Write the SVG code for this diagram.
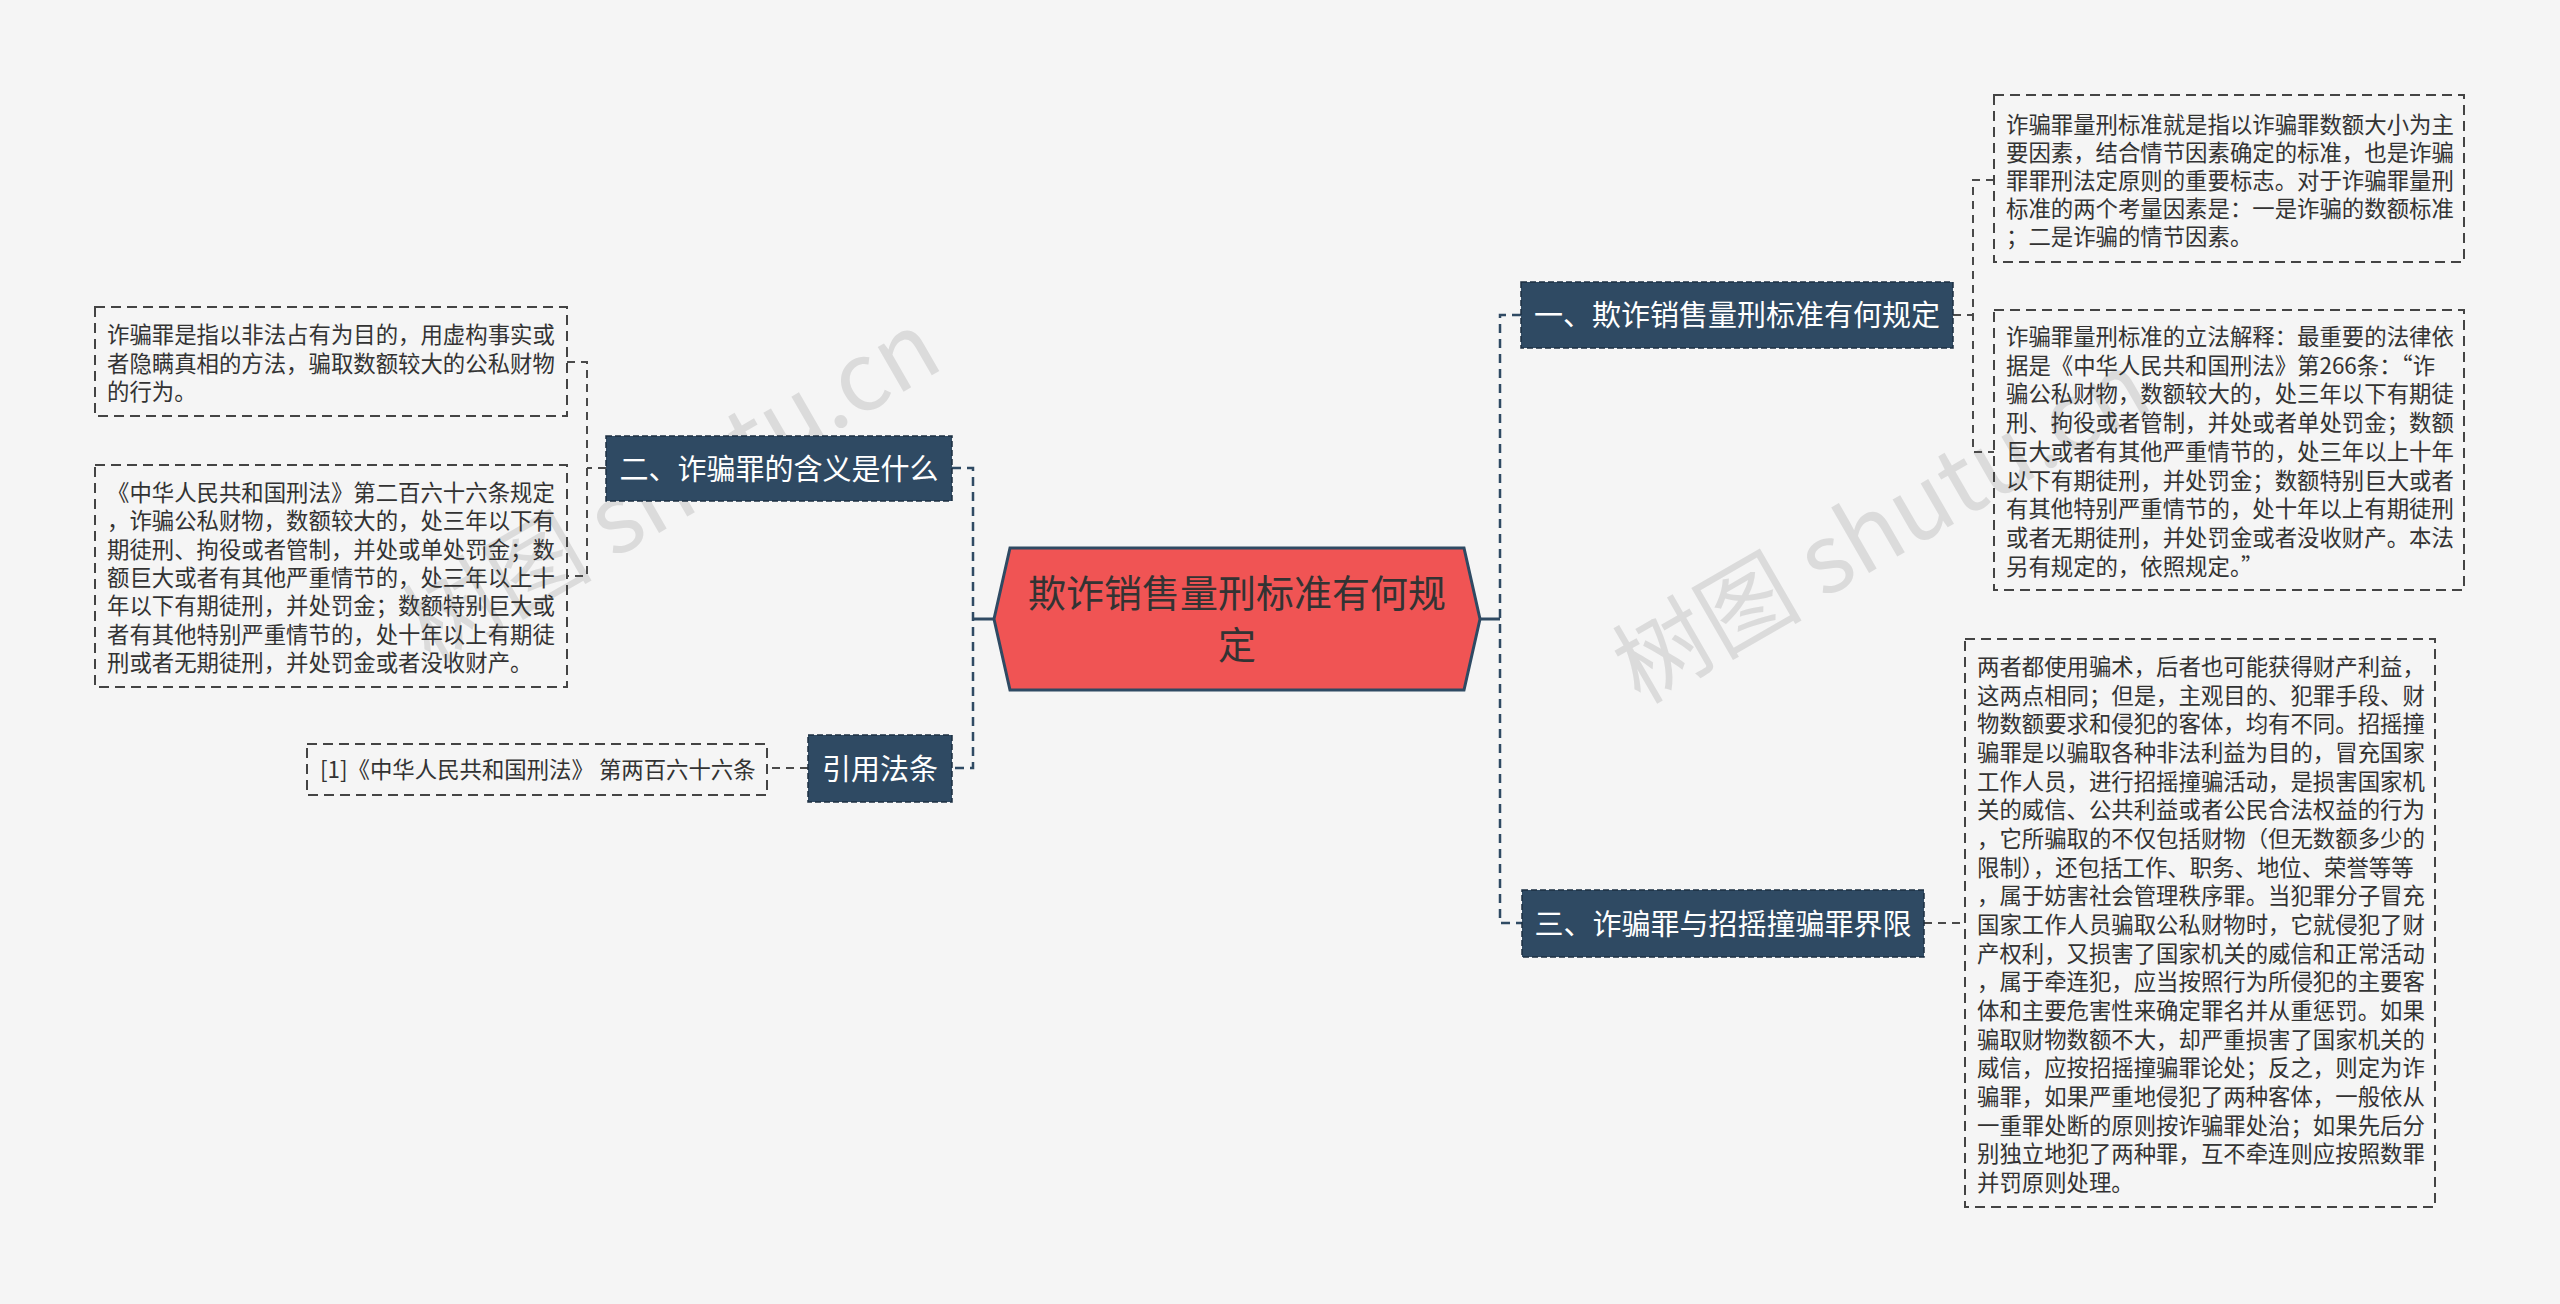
<svg xmlns="http://www.w3.org/2000/svg" width="2560" height="1304" viewBox="0 0 2560 1304">
<style>
.bg{fill:#f5f5f5}
.conn{fill:none;stroke:#2f4a63;stroke-width:2.5;stroke-dasharray:9 6}
.lconn{fill:none;stroke:#4a4a4a;stroke-width:2;stroke-dasharray:8 6}
.solid{fill:none;stroke:#2f4a63;stroke-width:3}
.topic{fill:#2f4a63;stroke:#1c2f42;stroke-width:1.5;stroke-dasharray:6 3}
.ttext{font-family:"Noto Sans CJK SC","Noto Sans",sans-serif;font-size:29px;fill:#ffffff;text-anchor:middle;dominant-baseline:central}
.leaf{fill:none;stroke:#444;stroke-width:2;stroke-dasharray:10 6}
.ltext{font-family:"Noto Sans CJK SC","Noto Sans",sans-serif;font-size:22.4px;fill:#333;dominant-baseline:central}
.wm{font-family:"Noto Sans CJK SC","Noto Sans",sans-serif;font-size:95px;fill:#bdbdbd;opacity:0.45}
</style>
<rect class="bg" x="0" y="0" width="2560" height="1304"/>

<g id="watermarks">
  <text class="wm" transform="translate(430,665) rotate(-30)">树图 shutu.cn</text>
  <text class="wm" transform="translate(1640,705) rotate(-30)">树图 shutu.cn</text>
</g>

<g id="connectors">
  <path class="solid" d="M1480,619 H1500"/>
  <path class="conn" d="M1521,315 H1500 V923 H1522"/>
  <path class="solid" d="M994,619 H973"/>
  <path class="conn" d="M952,468 H973 V768 H952"/>
  <path class="lconn" d="M1953,315 H1973"/>
  <path class="lconn" d="M1994,180 H1973 V452 H1994"/>
  <path class="lconn" d="M1924,923 H1965"/>
  <path class="lconn" d="M606,468 H587"/>
  <path class="lconn" d="M567,362 H587 V576 H567"/>
  <path class="lconn" d="M808,768 H767"/>
</g>

<g id="root">
  <polygon points="994,619 1010,548 1464,548 1480,619 1464,690 1010,690" fill="#f05454" stroke="#2f4a63" stroke-width="3"/>
  <text x="1237" y="590" font-family="'Noto Sans CJK SC','Noto Sans',sans-serif" font-size="38" fill="#333" text-anchor="middle" dominant-baseline="central">欺诈销售量刑标准有何规</text>
  <text x="1237" y="642" font-family="'Noto Sans CJK SC','Noto Sans',sans-serif" font-size="38" fill="#333" text-anchor="middle" dominant-baseline="central">定</text>
</g>

<g id="topic1">
  <rect class="topic" x="1521" y="282" width="432" height="66"/>
  <text class="ttext" x="1737" y="313">一、欺诈销售量刑标准有何规定</text>
</g>
<g id="topic3">
  <rect class="topic" x="1522" y="890" width="402" height="67"/>
  <text class="ttext" x="1723" y="922">三、诈骗罪与招摇撞骗罪界限</text>
</g>
<g id="topic2">
  <rect class="topic" x="606" y="436" width="346" height="65"/>
  <text class="ttext" x="779" y="467">二、诈骗罪的含义是什么</text>
</g>
<g id="topic4">
  <rect class="topic" x="808" y="735" width="144" height="67"/>
  <text class="ttext" x="880" y="767">引用法条</text>
</g>

<g id="leaf-l1">
  <rect class="leaf" x="95" y="307" width="472" height="109"/>
  <text class="ltext" transform="translate(0,-2)"><tspan x="107" y="335">诈骗罪是指以非法占有为目的，用虚构事实或</tspan><tspan x="107" y="363.5">者隐瞒真相的方法，骗取数额较大的公私财物</tspan><tspan x="107" y="392">的行为。</tspan></text>
</g>
<g id="leaf-l2">
  <rect class="leaf" x="95" y="465" width="472" height="222"/>
  <text class="ltext" transform="translate(0,-2)"><tspan x="107" y="493">《中华人民共和国刑法》第二百六十六条规定</tspan><tspan x="107" y="521.3">，诈骗公私财物，数额较大的，处三年以下有</tspan><tspan x="107" y="549.6">期徒刑、拘役或者管制，并处或单处罚金；数</tspan><tspan x="107" y="577.9">额巨大或者有其他严重情节的，处三年以上十</tspan><tspan x="107" y="606.2">年以下有期徒刑，并处罚金；数额特别巨大或</tspan><tspan x="107" y="634.5">者有其他特别严重情节的，处十年以上有期徒</tspan><tspan x="107" y="662.8">刑或者无期徒刑，并处罚金或者没收财产。</tspan></text>
</g>
<g id="leaf-l3">
  <rect class="leaf" x="307" y="744" width="460" height="51"/>
  <text class="ltext" x="320" y="768">[1]《中华人民共和国刑法》 第两百六十六条</text>
</g>

<g id="leaf-r1">
  <rect class="leaf" x="1994" y="95" width="470" height="167"/>
  <text class="ltext" transform="translate(0,-2)"><tspan x="2006" y="124.5">诈骗罪量刑标准就是指以诈骗罪数额大小为主</tspan><tspan x="2006" y="152.7">要因素，结合情节因素确定的标准，也是诈骗</tspan><tspan x="2006" y="180.9">罪罪刑法定原则的重要标志。对于诈骗罪量刑</tspan><tspan x="2006" y="209.1">标准的两个考量因素是：一是诈骗的数额标准</tspan><tspan x="2006" y="237.3">；二是诈骗的情节因素。</tspan></text>
</g>
<g id="leaf-r2">
  <rect class="leaf" x="1994" y="310" width="470" height="280"/>
  <text class="ltext" transform="translate(0,-2)"><tspan x="2006" y="337">诈骗罪量刑标准的立法解释：最重要的法律依</tspan><tspan x="2006" y="365.7">据是《中华人民共和国刑法》第266条：“诈</tspan><tspan x="2006" y="394.4">骗公私财物，数额较大的，处三年以下有期徒</tspan><tspan x="2006" y="423.1">刑、拘役或者管制，并处或者单处罚金；数额</tspan><tspan x="2006" y="451.8">巨大或者有其他严重情节的，处三年以上十年</tspan><tspan x="2006" y="480.5">以下有期徒刑，并处罚金；数额特别巨大或者</tspan><tspan x="2006" y="509.2">有其他特别严重情节的，处十年以上有期徒刑</tspan><tspan x="2006" y="537.9">或者无期徒刑，并处罚金或者没收财产。本法</tspan><tspan x="2006" y="566.6">另有规定的，依照规定。”</tspan></text>
</g>
<g id="leaf-r3">
  <rect class="leaf" x="1965" y="639" width="470" height="568"/>
  <text class="ltext" transform="translate(0,-2)"><tspan x="1977" y="667">两者都使用骗术，后者也可能获得财产利益，</tspan><tspan x="1977" y="695.67">这两点相同；但是，主观目的、犯罪手段、财</tspan><tspan x="1977" y="724.34">物数额要求和侵犯的客体，均有不同。招摇撞</tspan><tspan x="1977" y="753.01">骗罪是以骗取各种非法利益为目的，冒充国家</tspan><tspan x="1977" y="781.68">工作人员，进行招摇撞骗活动，是损害国家机</tspan><tspan x="1977" y="810.35">关的威信、公共利益或者公民合法权益的行为</tspan><tspan x="1977" y="839.02">，它所骗取的不仅包括财物（但无数额多少的</tspan><tspan x="1977" y="867.69">限制），还包括工作、职务、地位、荣誉等等</tspan><tspan x="1977" y="896.36">，属于妨害社会管理秩序罪。当犯罪分子冒充</tspan><tspan x="1977" y="925.03">国家工作人员骗取公私财物时，它就侵犯了财</tspan><tspan x="1977" y="953.7">产权利，又损害了国家机关的威信和正常活动</tspan><tspan x="1977" y="982.37">，属于牵连犯，应当按照行为所侵犯的主要客</tspan><tspan x="1977" y="1011.04">体和主要危害性来确定罪名并从重惩罚。如果</tspan><tspan x="1977" y="1039.71">骗取财物数额不大，却严重损害了国家机关的</tspan><tspan x="1977" y="1068.38">威信，应按招摇撞骗罪论处；反之，则定为诈</tspan><tspan x="1977" y="1097.05">骗罪，如果严重地侵犯了两种客体，一般依从</tspan><tspan x="1977" y="1125.72">一重罪处断的原则按诈骗罪处治；如果先后分</tspan><tspan x="1977" y="1154.39">别独立地犯了两种罪，互不牵连则应按照数罪</tspan><tspan x="1977" y="1183.06">并罚原则处理。</tspan></text>
</g>
</svg>
